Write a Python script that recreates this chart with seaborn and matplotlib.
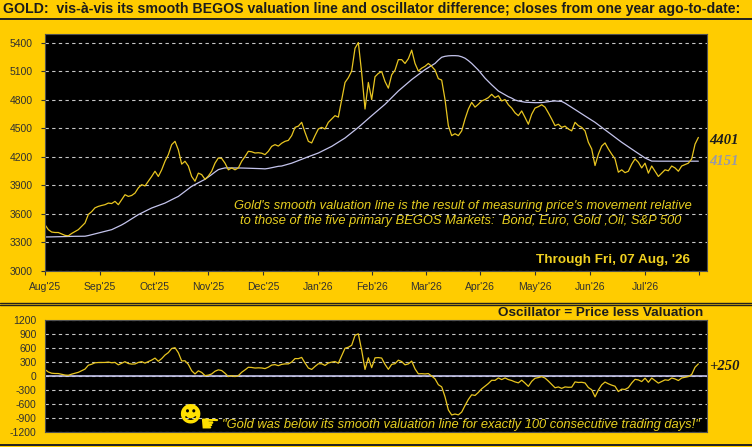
import numpy as np
import matplotlib
matplotlib.use("Agg")
import matplotlib.pyplot as plt
import seaborn as sns
from matplotlib.lines import Line2D

# ------------------------------------------------------------------
# data (one sample every ~3.3 px, ~1.3 trading days)
# ------------------------------------------------------------------
price = [3482, 3430, 3405, 3400, 3400, 3385, 3370, 3365, 3390, 3410,
         3430, 3465, 3500, 3590, 3620, 3660, 3675, 3685, 3693, 3710,
         3705, 3728, 3693, 3745, 3798, 3780, 3790, 3815, 3870, 3904,
         3890, 3940, 3990, 4045, 3990, 4060, 4150, 4220, 4325, 4360,
         4270, 4120, 4150, 4100, 3990, 3940, 4025, 4010, 3960, 3995,
         4045, 4130, 4185, 4180, 4130, 4060, 4080, 4060, 4080, 4150,
         4200, 4255, 4250, 4237, 4240, 4235, 4220, 4255, 4307, 4325,
         4310, 4340, 4360, 4370, 4420, 4507, 4520, 4560, 4455, 4360,
         4343, 4420, 4490, 4507, 4490, 4560, 4595, 4630, 4615, 4800,
         4980, 5030, 5100, 5340, 5400, 5080, 4700, 4980, 4800, 5040,
         5075, 5095, 4990, 4920, 5060, 5110, 5220, 5220, 5180, 5230,
         5320, 5180, 5100, 5130, 5150, 5180, 5150, 5110, 5020, 5005,
         4800, 4525, 4420, 4440, 4420, 4470, 4595, 4700, 4770, 4720,
         4750, 4785, 4800, 4820, 4855, 4820, 4840, 4785, 4800, 4745,
         4710, 4660, 4630, 4680, 4612, 4540, 4645, 4710, 4725, 4745,
         4720, 4660, 4595, 4525, 4540, 4507, 4520, 4490, 4470, 4560,
         4525, 4507, 4470, 4350, 4280, 4105, 4225, 4310, 4343, 4280,
         4225, 4175, 4035, 4060, 4030, 4045, 4120, 4175, 4140, 4080,
         4130, 4025, 4100, 4045, 3990, 4025, 4060, 4050, 4100, 4080,
         4045, 4100, 4115, 4130, 4175, 4330, 4401]

valuation = [3353, 3353, 3354, 3355, 3356, 3357, 3358, 3358, 3359, 3360,
             3360, 3360, 3361, 3368, 3377, 3386, 3395, 3404, 3412, 3421,
             3430, 3446, 3463, 3480, 3500, 3522, 3544, 3566, 3588, 3606,
             3623, 3641, 3658, 3671, 3684, 3697, 3710, 3728, 3745, 3763,
             3780, 3806, 3833, 3860, 3886, 3905, 3923, 3942, 3960, 3985,
             4010, 4037, 4062, 4072, 4080, 4080, 4080, 4080, 4080, 4079,
             4078, 4077, 4076, 4075, 4074, 4072, 4070, 4075, 4082, 4090,
             4097, 4100, 4110, 4120, 4130, 4143, 4157, 4171, 4185, 4198,
             4211, 4224, 4237, 4254, 4272, 4290, 4307, 4329, 4351, 4373,
             4395, 4423, 4451, 4479, 4507, 4538, 4568, 4599, 4630, 4660,
             4690, 4720, 4750, 4785, 4820, 4855, 4890, 4920, 4950, 4980,
             5010, 5036, 5062, 5089, 5115, 5137, 5159, 5180, 5215, 5245,
             5255, 5260, 5262, 5262, 5260, 5250, 5235, 5210, 5180, 5145,
             5110, 5068, 5025, 4990, 4955, 4922, 4890, 4870, 4850, 4830,
             4815, 4795, 4785, 4778, 4772, 4770, 4768, 4767, 4767, 4768,
             4772, 4777, 4782, 4785, 4783, 4780, 4762, 4740, 4718, 4695,
             4672, 4650, 4627, 4605, 4582, 4560, 4534, 4508, 4481, 4455,
             4429, 4402, 4376, 4350, 4326, 4302, 4279, 4255, 4232, 4208,
             4185, 4168, 4152, 4151, 4151, 4151, 4151, 4151, 4151, 4151,
             4151, 4151, 4151, 4151, 4151, 4151, 4151]

month_pos = [0, 16.5, 32.7, 48.9, 65.4, 81.9, 98.1, 114.3, 130.5, 147, 163.5, 180, 196.2]
month_labels = ["Aug'25", "Sep'25", "Oct'25", "Nov'25", "Dec'25", "Jan'26", "Feb'26",
                "Mar'26", "Apr'26", "May'26", "Jun'26", "Jul'26", ""]
price_ticks = [3000, 3300, 3600, 3900, 4200, 4500, 4800, 5100, 5400]
osc_ticks = [-1200, -900, -600, -300, 0, 300, 600, 900, 1200]

BG = "#FFCC00"
GOLD_LINE = "#E8C520"
VAL_LINE = "#C4C4EC"
GRID = "#C8C8C8"
NOTE = "#E8D020"
DARK = "#1C1C1C"
W, H = 752, 447


def fx(x):
    return x / W


def fy(y):
    return 1 - y / H


def axes_box(left, top, right, bottom):
    return [fx(left), fy(bottom), fx(right) - fx(left), fy(top) - fy(bottom)]


sns.set_style("dark")
plt.rcParams["font.family"] = ["Liberation Sans", "DejaVu Sans"]
plt.rcParams["axes.unicode_minus"] = False

x = np.arange(len(price))
osc = np.array(price) - np.array(valuation)

fig = plt.figure(figsize=(W / 100, H / 100), dpi=100, facecolor=BG)

# ------------------------------------------------------------------
# main panel: price and valuation
# ------------------------------------------------------------------
ax = fig.add_axes(axes_box(45, 34, 706.7, 270.5))
ax.set_facecolor("black")
sns.lineplot(x=x, y=valuation, ax=ax, color=VAL_LINE, lw=0.9)
sns.lineplot(x=x, y=price, ax=ax, color=GOLD_LINE, lw=0.9)
ax.set_xlim(0, 198.5)
ax.set_ylim(3000, 5490)
ax.set_yticks(price_ticks)
ax.set_xticks(month_pos)
ax.set_xticklabels(month_labels)
ax.yaxis.grid(True, linestyle=(0, (3, 3)), color=GRID, lw=0.8)
ax.xaxis.grid(False)
ax.set_axisbelow(True)
ax.tick_params(axis="both", colors="#303030", labelsize=7.5, length=3, width=0.8,
               direction="out", bottom=True, left=True)
ax.tick_params(axis="y", pad=6)
ax.tick_params(axis="x", pad=5)
for s in ax.spines.values():
    s.set_color("#505050")
    s.set_linewidth(0.8)
ax.set_xlabel("")
ax.set_ylabel("")

fig.text(fx(463), fy(206.5), "Gold's smooth valuation line is the result of measuring price's movement relative",
         ha="center", va="center", fontsize=9.3, style="italic", color=NOTE)
fig.text(fx(461), fy(221), "to those of the five primary BEGOS Markets:  Bond, Euro, Gold ,Oil, S&P 500",
         ha="center", va="center", fontsize=9.3, style="italic", color=NOTE)
fig.text(fx(690), fy(260), "Through Fri, 07 Aug, '26", ha="right", va="center",
         fontsize=9.7, weight="bold", color="#F0D020")

fig.text(fx(709), fy(140), f"{price[-1]}", ha="left", va="center", fontsize=10.5, weight="bold",
         style="italic", family="Liberation Serif", color=DARK)
fig.text(fx(709), fy(161.5), f"{valuation[-1]}", ha="left", va="center", fontsize=10.5, weight="bold",
         style="italic", family="Liberation Serif", color="#9898A8")

# ------------------------------------------------------------------
# oscillator panel
# ------------------------------------------------------------------
ax2 = fig.add_axes(axes_box(45, 319.5, 706.7, 431.7))
ax2.set_facecolor("black")
ax2.axhline(0, color=VAL_LINE, lw=1.2)
sns.lineplot(x=x, y=osc, ax=ax2, color=GOLD_LINE, lw=0.9)
ax2.set_xlim(0, 198.5)
ax2.set_ylim(-1200, 1200)
ax2.set_yticks(osc_ticks)
ax2.set_xticks([])
ax2.yaxis.grid(True, linestyle=(0, (3, 3)), color=GRID, lw=0.8)
ax2.xaxis.grid(False)
ax2.set_axisbelow(True)
ax2.tick_params(axis="y", colors="#303030", labelsize=7.5, length=0, pad=6)
for s in ax2.spines.values():
    s.set_color("#505050")
    s.set_linewidth(0.8)
ax2.set_xlabel("")
ax2.set_ylabel("")

fig.text(fx(703), fy(316.5), "Oscillator = Price less Valuation", ha="right", va="baseline",
         fontsize=9.7, weight="bold", color=DARK)
fig.text(fx(709), fy(366), f"+{osc[-1]:.0f}", ha="left", va="center", fontsize=10.5, weight="bold",
         style="italic", family="Liberation Serif", color=DARK)

fig.text(fx(178), fy(415), "\u263b", ha="left", va="center", fontsize=16, color="#FFE000", family="DejaVu Sans")
fig.text(fx(199), fy(425), "\u261b", ha="left", va="center", fontsize=16, color="#FFE000", family="DejaVu Sans")
fig.text(fx(222), fy(425), "\"Gold was below its smooth valuation line for exactly 100 consecutive trading days!\"",
         ha="left", va="center", fontsize=9.25, style="italic", color=NOTE)

# ------------------------------------------------------------------
# title and frame lines
# ------------------------------------------------------------------
fig.text(fx(3), fy(9.5), "GOLD:  vis-\u00e0-vis its smooth BEGOS valuation line and oscillator difference; "
         "closes from one year ago-to-date:", ha="left", va="center", fontsize=10.2, weight="bold", color=DARK)
for yy, lw in [(19, 1.4), (302.5, 1.0), (305, 1.0), (445, 1.4)]:
    fig.add_artist(Line2D([0, 1], [fy(yy), fy(yy)], transform=fig.transFigure, color="#202020", lw=lw))

fig.savefig("out.png", dpi=100, facecolor=BG)
